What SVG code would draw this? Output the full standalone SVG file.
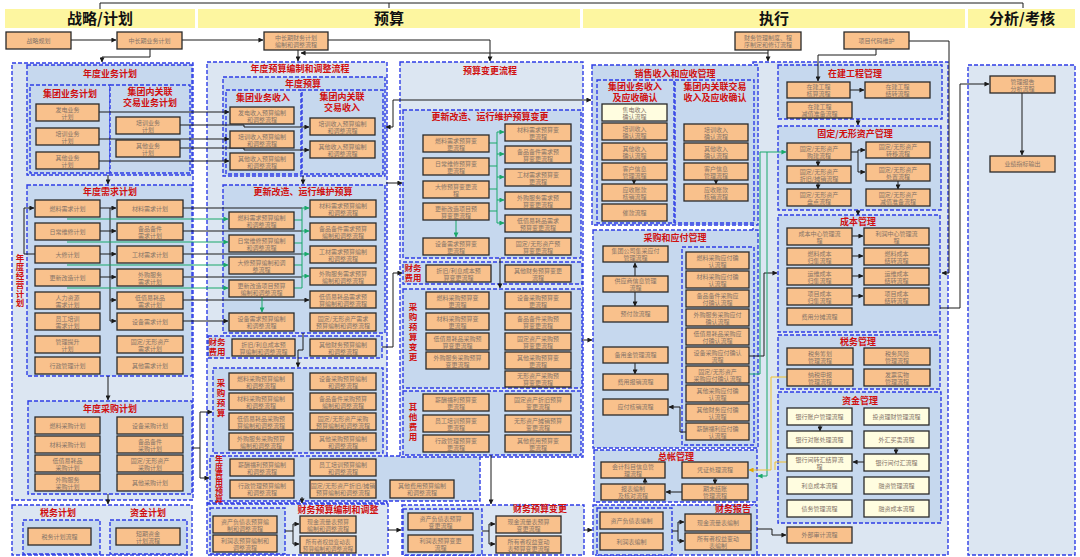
<svg xmlns="http://www.w3.org/2000/svg" width="1080" height="557" viewBox="0 0 1080 557">
<defs>
<style>
.hb{fill:#FDF6A0}
.ht{font-family:"Noto Sans CJK SC","Noto Sans",sans-serif;font-size:15px;font-weight:bold;fill:#111;text-anchor:middle}
.co{fill:#DCE6F2;stroke:#2E3DE6;stroke-width:1.4;stroke-dasharray:4 2}
.c{fill:#C6D8EE;stroke:#2E3DE6;stroke-width:1.4;stroke-dasharray:4 2}
.ct{font-family:"Noto Sans CJK SC",sans-serif;font-size:9px;font-weight:bold;fill:#D01010;text-anchor:middle}
.vl{font-family:"Noto Sans CJK SC",sans-serif;font-size:8.5px;font-weight:bold;fill:#D01010;text-anchor:middle}
.vv{font-family:"Noto Sans CJK SC",sans-serif;font-size:8.5px;font-weight:bold;fill:#D01010;text-anchor:middle;writing-mode:vertical-rl}
.b{fill:#F9C18C;stroke:#2A2A2A;stroke-width:1.3}
.bc{fill:#FFFDE0;stroke:#2A2A2A;stroke-width:1.3}
.t{font-family:"Noto Sans CJK SC",sans-serif;font-size:6px;fill:#857468;text-anchor:middle}
.k{fill:none;stroke:#1A1A1A;stroke-width:1}
.g{fill:none;stroke:#19A86A;stroke-width:1}
.y{fill:none;stroke:#F2C22E;stroke-width:1}
.a{marker-end:url(#ak)}
.ag{marker-end:url(#ag)}
.ay{marker-end:url(#ay)}
</style>
<marker id="ak" viewBox="0 0 6 6" refX="5.5" refY="3" markerWidth="5" markerHeight="5" markerUnits="userSpaceOnUse" orient="auto"><path d="M0,0L6,3L0,6z" fill="#1A1A1A"/></marker>
<marker id="ag" viewBox="0 0 6 6" refX="5.5" refY="3" markerWidth="5" markerHeight="5" markerUnits="userSpaceOnUse" orient="auto"><path d="M0,0L6,3L0,6z" fill="#19A86A"/></marker>
<marker id="ay" viewBox="0 0 6 6" refX="5.5" refY="3" markerWidth="5" markerHeight="5" markerUnits="userSpaceOnUse" orient="auto"><path d="M0,0L6,3L0,6z" fill="#E0A800"/></marker>
</defs>
<rect x="0" y="0" width="1080" height="557" fill="#FFFFFF"/>

<g id="headers">
<rect class="hb" x="5" y="9" width="190" height="19"/><text class="ht" x="100" y="24">战略/计划</text>
<rect class="hb" x="198" y="9" width="382" height="19"/><text class="ht" x="389" y="24">预算</text>
<rect class="hb" x="583" y="9" width="382" height="19"/><text class="ht" x="774" y="24">执行</text>
<rect class="hb" x="968" y="9" width="107" height="19"/><text class="ht" x="1022" y="24">分析/考核</text>
</g>

<!-- containers -->
<g id="c-ndjyjh"><rect class="co" x="12" y="63" width="181" height="437"/><text class="vv" x="20" y="281" letter-spacing="0.5">年度经营计划</text></g>
<g id="c-ndywjh"><rect class="c" x="27" y="65" width="165" height="110"/><text class="ct" x="110" y="77">年度业务计划</text></g>
<g id="c-jtywjh"><rect class="c" x="30" y="85" width="80" height="88"/><text class="ct" x="70" y="97">集团业务计划</text></g>
<g id="c-jtnywjh"><rect class="c" x="110" y="85" width="80" height="88"/><text class="ct" x="150" y="95">集团内关联<tspan x="150" dy="11">交易业务计划</tspan></text></g>
<g id="c-ndxqjh"><rect class="c" x="27" y="185" width="165" height="191"/><text class="ct" x="110" y="195">年度需求计划</text></g>
<g id="c-ndcgjh"><rect class="c" x="28" y="401" width="164" height="93"/><text class="ct" x="110" y="412">年度采购计划</text></g>
<g id="c-swzj"><rect class="co" x="12" y="505" width="180" height="50"/></g>
<g id="c-swjh"><rect class="c" x="23" y="520" width="77" height="34"/><text class="ct" x="58" y="516">税务计划</text></g>
<g id="c-zjjh"><rect class="c" x="110" y="520" width="77" height="34"/><text class="ct" x="148" y="516">资金计划</text></g>

<g id="c-ndysbz"><rect class="co" x="207" y="62" width="180" height="441"/><text class="ct" x="300" y="72">年度预算编制和调整流程</text></g>
<g id="c-ndys"><rect class="c" x="223" y="77" width="162" height="99"/><text class="ct" x="303" y="87">年度预算</text></g>
<g id="c-jtywsr"><rect class="c" x="226" y="90" width="75" height="84"/><text class="ct" x="263" y="101">集团业务收入</text></g>
<g id="c-jtnsr"><rect class="c" x="302" y="90" width="81" height="84"/><text class="ct" x="342" y="100">集团内关联<tspan x="342" dy="11">交易收入</tspan></text></g>
<g id="c-gxys"><rect class="c" x="223" y="185" width="162" height="148"/><text class="ct" x="303" y="195">更新改造、运行维护预算</text></g>
<g id="c-cwfy"><rect class="c" x="208" y="336" width="174" height="22"/><text class="vl" x="217" y="345">财务<tspan x="217" dy="10">费用</tspan></text></g>
<g id="c-cgys"><rect class="c" x="213" y="368" width="170" height="85"/><text class="vv" x="221" y="399" letter-spacing="1.5">采购预算</text></g>
<g id="c-fyys"><rect class="c" x="210" y="456" width="270" height="45"/><text class="vv" x="219" y="479" style="font-size:8px">年度费用预算</text></g>
<g id="c-cwysbz"><rect class="co" x="207" y="504" width="181" height="51"/><text class="ct" x="338" y="513">财务预算编制和调整</text></g>
<g id="c-cwysbz-l"><rect class="c" x="210" y="508" width="75" height="46"/></g>

<g id="c-ysbg"><rect class="co" x="400" y="62" width="183" height="395"/><text class="ct" x="490" y="74">预算变更流程</text></g>
<g id="c-gxbg"><rect class="c" x="403" y="110" width="178" height="148"/><text class="ct" x="490" y="120">更新改造、运行维护预算变更</text></g>
<g id="c-cwfybg"><rect class="c" x="403" y="262" width="179" height="22"/><text class="vl" x="413" y="271">财务<tspan x="413" dy="10">费用</tspan></text></g>
<g id="c-cgbg"><rect class="c" x="403" y="289" width="179" height="99"/><text class="vv" x="413" y="333" letter-spacing="1.5">采购预算变更</text></g>
<g id="c-qtfybg"><rect class="c" x="403" y="391" width="178" height="64"/><text class="vv" x="413" y="423" letter-spacing="1.5">其他费用</text></g>
<g id="c-cwysbg"><rect class="co" x="402" y="505" width="182" height="50"/><text class="ct" x="540" y="512">财务预算变更</text></g>
<g id="c-cwysbg-l"><rect class="c" x="403" y="509" width="79" height="46"/></g>

<g id="c-zx"><rect class="co" x="753" y="62" width="195" height="493"/></g>
<g id="c-xs"><rect class="c" x="592" y="65" width="166" height="160"/><text class="ct" x="675" y="77">销售收入和应收管理</text></g>
<g id="c-xs1"><rect class="c" x="597" y="80" width="77" height="143"/><text class="ct" x="635" y="90">集团业务收入<tspan x="635" dy="11">及应收确认</tspan></text></g>
<g id="c-xs2"><rect class="c" x="675" y="80" width="79" height="143"/><text class="ct" x="715" y="90">集团内关联交易<tspan x="715" dy="11">收入及应收确认</tspan></text></g>
<g id="c-cgyf"><rect class="c" x="593" y="230" width="165" height="218"/><text class="ct" x="675" y="241">采购和应付管理</text></g>
<g id="c-cgyf-r"><rect class="c" x="682" y="247" width="72" height="198"/></g>
<g id="c-zz"><rect class="c" x="594" y="450" width="163" height="52"/><text class="ct" x="676" y="460">总帐管理</text></g>
<g id="c-cwbg"><rect class="c" x="593" y="505" width="164" height="50"/><text class="ct" x="733" y="512">财务报告</text></g>
<g id="c-cwbg-l"><rect class="c" x="597" y="508" width="75" height="47"/></g>
<g id="c-zjgc"><rect class="c" x="778" y="65" width="164" height="54"/><text class="ct" x="855" y="77">在建工程管理</text></g>
<g id="c-gdzc"><rect class="c" x="778" y="126" width="163" height="84"/><text class="ct" x="855" y="137">固定/无形资产管理</text></g>
<g id="c-cbgl"><rect class="c" x="778" y="215" width="162" height="117"/><text class="ct" x="858" y="225">成本管理</text></g>
<g id="c-swgl"><rect class="c" x="778" y="335" width="162" height="54"/><text class="ct" x="858" y="345">税务管理</text></g>
<g id="c-zjgl"><rect class="c" x="778" y="392" width="163" height="131"/><text class="ct" x="860" y="404">资金管理</text></g>
<g id="c-fx"><rect class="co" x="968" y="65" width="107" height="490"/></g>

<g id="connectors">
<path class="k" d="M100,9V3H1023V8"/><path class="k" d="M389,3V8"/>
<path class="k a" d="M71,40H116"/>
<path class="k a" d="M182,40H263"/>
<path class="k a" d="M150,49V57H102V62"/>
<path class="k a" d="M298,50V61"/>
<path class="k a" d="M328,40H490V61"/>
<path class="k a" d="M768,50V61"/>
<path class="k a" d="M768,53H301"/>
<path class="k a" d="M876,49V55H818V81"/>
<path class="k a" d="M909,41H949V273H942"/>
<path class="k a" d="M940,308H960V84H989"/>
<path class="k a" d="M1022,93V155"/>
<path class="k a" d="M108,175V184"/>
<path class="k a" d="M108,376V400"/>
<path class="k a" d="M108,494V504"/>
<path class="k a" d="M99,112H229"/>
<path class="k a" d="M99,139H229"/>
<path class="k a" d="M99,161H229"/>
<path class="k a" d="M180,125H244V127H309"/>
<path class="k a" d="M180,148H244V150H309"/>
<path class="k a" d="M393,127H386"/>
<path class="k a" d="M393,127V100H591"/>
<path class="k a" d="M35,254H24V208H34"/>
<path class="k" d="M100,208H110M100,231H110M100,254H110M100,277H110M110,208V321"/>
<path class="k a" d="M110,208H116"/><path class="k a" d="M110,231H116"/><path class="k a" d="M110,254H116"/><path class="k a" d="M110,277H116"/><path class="k a" d="M110,300H116"/><path class="k a" d="M110,321H116"/>
<path class="g ag" d="M67,219H228"/>
<path class="g ag" d="M67,242H228"/>
<path class="g ag" d="M67,265H228"/>
<path class="g ag" d="M67,288H228"/>
<path class="k" d="M183,208H302M183,231H302M183,254H302M183,277H302"/>
<path class="k a" d="M183,300H309"/>
<path class="k a" d="M183,321H228"/>
<path class="g" d="M294,220H302M294,243H302M294,265H302M294,288H302M302,208V288"/>
<path class="g ag" d="M302,208H309"/><path class="g ag" d="M302,231H309"/><path class="g ag" d="M302,254H309"/><path class="g ag" d="M302,276H309"/>
<path class="g ag" d="M262,297V312"/>
<path class="k a" d="M303,176V184"/>
<path class="k a" d="M303,333V350H298V367"/>
<path class="k" d="M192,448H200M200,412V478"/>
<path class="k a" d="M200,412H212"/><path class="k a" d="M200,478H209"/>
<path class="k a" d="M302,497V503"/>
<path class="k" d="M285,531H293M293,524V544"/><path class="k a" d="M293,524H299"/><path class="k a" d="M293,544H299"/>
<path class="k a" d="M388,530H401"/>
<path class="k a" d="M386,183H402"/>
<path class="k a" d="M382,347H393V273H402"/>
<path class="k a" d="M500,258V288"/>
<path class="g" d="M489,143H497M489,166H497M489,189H497M489,211H497M497,132V223"/>
<path class="g ag" d="M497,132H504"/><path class="g ag" d="M497,154H504"/><path class="g ag" d="M497,177H504"/><path class="g ag" d="M497,200H504"/><path class="g ag" d="M497,223H504"/>
<path class="g ag" d="M456,220V237"/>
<path class="k a" d="M491,455V504"/>
<path class="k" d="M482,531H489M489,524V544"/><path class="k a" d="M489,524H495"/><path class="k a" d="M489,544H495"/>
<path class="k a" d="M584,530H592"/>
<path class="k a" d="M582,340H592"/>
<path class="k a" d="M634,179V184"/><path class="k a" d="M716,179V184"/>
<path class="k a" d="M635,276V263"/>
<path class="k a" d="M635,292V306"/>
<path class="k a" d="M635,363V374"/>
<path class="k a" d="M686,432H680V407H669"/>
<path class="k a" d="M749,356H764V273H777"/>
<path class="g ag" d="M749,374H760V152H786"/>
<path class="g ag" d="M767,152V476H758"/>
<path class="y ay" d="M787,377H771V470H749"/>
<path class="y" d="M787,462H775V470"/>
<path class="k a" d="M757,529H772V535H786"/>
<path class="k" d="M672,531H678M678,522V541"/><path class="k a" d="M678,522H684"/><path class="k a" d="M678,541H684"/>
<path class="k a" d="M715,478V484"/><path class="k a" d="M682,492H666"/><path class="k a" d="M645,484V478"/>
<path class="k a" d="M850,90H864"/><path class="k a" d="M858,119V125"/>
<path class="k a" d="M851,152H858V150H865"/><path class="k a" d="M858,152V172H865"/>
<path class="k a" d="M818,160V166"/><path class="k a" d="M818,183V189"/><path class="k a" d="M898,181V189"/><path class="k a" d="M858,210V215"/>
<path class="k a" d="M852,236H863"/><path class="k a" d="M852,256H863"/><path class="k a" d="M852,276H863"/><path class="k a" d="M852,296H863"/>
<path class="k a" d="M820,425V431"/><path class="k a" d="M896,448V454"/><path class="k a" d="M864,462H853"/>
</g>

<!-- column 1 nodes -->
<g id="n-zlgh"><rect class="b" x="6" y="32" width="65" height="17"/><text class="t" x="38.5" y="42.5">战略规划</text></g>
<g id="n-zcqywjh"><rect class="b" x="117" y="32" width="65" height="17"/><text class="t" x="149.5" y="42.5">中长期业务计划</text></g>
<g id="n-fdywjh"><rect class="b" x="36" y="104" width="63" height="17"/><text class="t" x="67.5" y="111.5">发电业务<tspan x="67.5" dy="7">计划</tspan></text></g>
<g id="n-pxywjh"><rect class="b" x="36" y="128" width="63" height="17"/><text class="t" x="67.5" y="135.5">培训业务<tspan x="67.5" dy="7">计划</tspan></text></g>
<g id="n-qtywjh"><rect class="b" x="36" y="152" width="63" height="17"/><text class="t" x="67.5" y="159.5">其他业务<tspan x="67.5" dy="7">计划</tspan></text></g>
<g id="n-pxywjh2"><rect class="b" x="116" y="117" width="64" height="17"/><text class="t" x="148" y="124.5">培训业务<tspan x="148" dy="7">计划</tspan></text></g>
<g id="n-qtywjh2"><rect class="b" x="116" y="140" width="64" height="17"/><text class="t" x="148" y="147.5">其他业务<tspan x="148" dy="7">计划</tspan></text></g>
<g id="n-rlxq"><rect class="b" x="35" y="200" width="65" height="17"/><text class="t" x="67.5" y="210.5">燃料需求计划</text></g>
<g id="n-rcwx"><rect class="b" x="35" y="223" width="65" height="17"/><text class="t" x="67.5" y="233.5">日常维修计划</text></g>
<g id="n-dx"><rect class="b" x="35" y="246" width="65" height="17"/><text class="t" x="67.5" y="256.5">大修计划</text></g>
<g id="n-gxgz"><rect class="b" x="35" y="269" width="65" height="17"/><text class="t" x="67.5" y="279.5">更新改造计划</text></g>
<g id="n-rlzy"><rect class="b" x="35" y="292" width="65" height="17"/><text class="t" x="67.5" y="299.5">人力资源<tspan x="67.5" dy="7">需求计划</tspan></text></g>
<g id="n-ygpx"><rect class="b" x="35" y="313" width="65" height="17"/><text class="t" x="67.5" y="320.5">员工培训<tspan x="67.5" dy="7">需求计划</tspan></text></g>
<g id="n-glts"><rect class="b" x="35" y="336" width="65" height="17"/><text class="t" x="67.5" y="343.5">管理提升<tspan x="67.5" dy="7">计划</tspan></text></g>
<g id="n-xzgl"><rect class="b" x="35" y="357" width="65" height="17"/><text class="t" x="67.5" y="367.5">行政管理计划</text></g>
<g id="n-clxq"><rect class="b" x="117" y="200" width="66" height="17"/><text class="t" x="150" y="210.5">材料需求计划</text></g>
<g id="n-bpbj"><rect class="b" x="117" y="223" width="66" height="17"/><text class="t" x="150" y="230.5">备品备件<tspan x="150" dy="7">需求计划</tspan></text></g>
<g id="n-gcxq"><rect class="b" x="117" y="246" width="66" height="17"/><text class="t" x="150" y="256.5">工材需求计划</text></g>
<g id="n-wgfw"><rect class="b" x="117" y="269" width="66" height="17"/><text class="t" x="150" y="276.5">外购服务<tspan x="150" dy="7">需求计划</tspan></text></g>
<g id="n-dzyh"><rect class="b" x="117" y="292" width="66" height="17"/><text class="t" x="150" y="299.5">低值易耗品<tspan x="150" dy="7">需求计划</tspan></text></g>
<g id="n-sbxq"><rect class="b" x="117" y="313" width="66" height="17"/><text class="t" x="150" y="323.5">设备需求计划</text></g>
<g id="n-gdxq"><rect class="b" x="117" y="336" width="66" height="17"/><text class="t" x="150" y="343.5">固定/无形资产<tspan x="150" dy="7">需求计划</tspan></text></g>
<g id="n-qtxq"><rect class="b" x="117" y="357" width="66" height="17"/><text class="t" x="150" y="367.5">其他需求计划</text></g>
<g id="n-rlcg"><rect class="b" x="35" y="417" width="65" height="17"/><text class="t" x="67.5" y="427.5">燃料采购计划</text></g>
<g id="n-clcg"><rect class="b" x="35" y="436" width="65" height="17"/><text class="t" x="67.5" y="446.5">材料采购计划</text></g>
<g id="n-dzcg"><rect class="b" x="35" y="455" width="65" height="17"/><text class="t" x="67.5" y="462.5">低值易耗品<tspan x="67.5" dy="7">采购计划</tspan></text></g>
<g id="n-wgcg"><rect class="b" x="35" y="474" width="65" height="17"/><text class="t" x="67.5" y="481.5">外购服务<tspan x="67.5" dy="7">采购计划</tspan></text></g>
<g id="n-sbcg"><rect class="b" x="117" y="417" width="66" height="17"/><text class="t" x="150" y="427.5">设备采购计划</text></g>
<g id="n-bpcg"><rect class="b" x="117" y="436" width="66" height="17"/><text class="t" x="150" y="443.5">备品备件<tspan x="150" dy="7">采购计划</tspan></text></g>
<g id="n-gdcg"><rect class="b" x="117" y="455" width="66" height="17"/><text class="t" x="150" y="462.5">固定/无形资产<tspan x="150" dy="7">采购计划</tspan></text></g>
<g id="n-qtcg"><rect class="b" x="117" y="474" width="66" height="17"/><text class="t" x="150" y="484.5">其他采购计划</text></g>
<g id="n-swjhlc"><rect class="b" x="28" y="528" width="63" height="17"/><text class="t" x="59.5" y="538.5">税务计划流程</text></g>
<g id="n-dqzjjh"><rect class="b" x="116" y="528" width="64" height="17"/><text class="t" x="148" y="535.5">短期资金<tspan x="148" dy="7">计划流程</tspan></text></g>

<!-- column 2 nodes -->
<g id="n-zcqcwjh"><rect class="b" x="264" y="32" width="64" height="18"/><text class="t" x="296" y="40">中长期财务计划<tspan x="296" dy="7">编制和调整流程</tspan></text></g>
<g id="n-fdsr"><rect class="b" x="230" y="107" width="64" height="17"/><text class="t" x="262" y="114.5">发电收入预算编制<tspan x="262" dy="7">和调整流程</tspan></text></g>
<g id="n-pxsr"><rect class="b" x="230" y="131" width="64" height="17"/><text class="t" x="262" y="138.5">培训收入预算编制<tspan x="262" dy="7">和调整流程</tspan></text></g>
<g id="n-qtsr"><rect class="b" x="230" y="153" width="64" height="17"/><text class="t" x="262" y="160.5">其他收入预算编制<tspan x="262" dy="7">和调整流程</tspan></text></g>
<g id="n-pxsr2"><rect class="b" x="310" y="118" width="65" height="17"/><text class="t" x="342.5" y="125.5">培训收入预算编制<tspan x="342.5" dy="7">和调整流程</tspan></text></g>
<g id="n-qtsr2"><rect class="b" x="310" y="141" width="65" height="17"/><text class="t" x="342.5" y="148.5">其他收入预算编制<tspan x="342.5" dy="7">和调整流程</tspan></text></g>
<g id="n-rlys"><rect class="b" x="229" y="212" width="65" height="17"/><text class="t" x="261.5" y="219.5">燃料需求预算编制<tspan x="261.5" dy="7">和调整流程</tspan></text></g>
<g id="n-rcys"><rect class="b" x="229" y="235" width="65" height="17"/><text class="t" x="261.5" y="242.5">日常维修预算编制<tspan x="261.5" dy="7">和调整流程</tspan></text></g>
<g id="n-dxys"><rect class="b" x="229" y="257" width="65" height="17"/><text class="t" x="261.5" y="264.5">大修预算编制和调<tspan x="261.5" dy="7">整流程</tspan></text></g>
<g id="n-gxys"><rect class="b" x="229" y="280" width="65" height="17"/><text class="t" x="261.5" y="287.5">更新改造项目预算<tspan x="261.5" dy="7">编制和调整流程</tspan></text></g>
<g id="n-sbys"><rect class="b" x="229" y="313" width="65" height="18"/><text class="t" x="261.5" y="321">设备需求预算编制<tspan x="261.5" dy="7">和调整流程</tspan></text></g>
<g id="n-clys"><rect class="b" x="310" y="200" width="66" height="17"/><text class="t" x="343" y="207.5">材料需求预算编制<tspan x="343" dy="7">和调整流程</tspan></text></g>
<g id="n-bpys"><rect class="b" x="310" y="223" width="66" height="17"/><text class="t" x="343" y="230.5">备品备件需求预算<tspan x="343" dy="7">编制和调整流程</tspan></text></g>
<g id="n-gcys"><rect class="b" x="310" y="246" width="66" height="17"/><text class="t" x="343" y="253.5">工材需求预算编制<tspan x="343" dy="7">和调整流程</tspan></text></g>
<g id="n-wgys"><rect class="b" x="310" y="268" width="66" height="17"/><text class="t" x="343" y="275.5">外购服务需求预算<tspan x="343" dy="7">编制和调整流程</tspan></text></g>
<g id="n-dzys"><rect class="b" x="310" y="291" width="66" height="17"/><text class="t" x="343" y="298.5">低值易耗品需求预<tspan x="343" dy="7">算编制和调整流程</tspan></text></g>
<g id="n-gdys"><rect class="b" x="310" y="313" width="66" height="18"/><text class="t" x="343" y="321">固定/无形资产需求<tspan x="343" dy="7">预算编制和调整流程</tspan></text></g>
<g id="n-zjlx"><rect class="b" x="232" y="339" width="63" height="17"/><text class="t" x="263.5" y="346.5">折旧/利息成本预<tspan x="263.5" dy="7">算编制和调整流程</tspan></text></g>
<g id="n-qtcw"><rect class="b" x="310" y="339" width="66" height="17"/><text class="t" x="343" y="346.5">其他财务预算编制<tspan x="343" dy="7">和调整流程</tspan></text></g>
<g id="n-rlcgys"><rect class="b" x="229" y="373" width="64" height="17"/><text class="t" x="261" y="380.5">燃料采购预算编制<tspan x="261" dy="7">和调整流程</tspan></text></g>
<g id="n-clcgys"><rect class="b" x="229" y="393" width="64" height="17"/><text class="t" x="261" y="400.5">材料采购预算编制<tspan x="261" dy="7">和调整流程</tspan></text></g>
<g id="n-dzcgys"><rect class="b" x="229" y="413" width="64" height="17"/><text class="t" x="261" y="420.5">低值易耗品采购预<tspan x="261" dy="7">算编制和调整流程</tspan></text></g>
<g id="n-wgcgys"><rect class="b" x="229" y="433" width="64" height="17"/><text class="t" x="261" y="440.5">外购服务采购预算<tspan x="261" dy="7">编制和调整流程</tspan></text></g>
<g id="n-sbcgys"><rect class="b" x="310" y="373" width="66" height="17"/><text class="t" x="343" y="380.5">设备采购预算编制<tspan x="343" dy="7">和调整流程</tspan></text></g>
<g id="n-bpcgys"><rect class="b" x="310" y="393" width="66" height="17"/><text class="t" x="343" y="400.5">备品备件采购预算<tspan x="343" dy="7">编制和调整流程</tspan></text></g>
<g id="n-gdcgys"><rect class="b" x="310" y="413" width="66" height="17"/><text class="t" x="343" y="420.5">固定/无形资产采购<tspan x="343" dy="7">预算编制和调整流程</tspan></text></g>
<g id="n-qtcgys"><rect class="b" x="310" y="433" width="66" height="17"/><text class="t" x="343" y="440.5">其他采购预算编制<tspan x="343" dy="7">和调整流程</tspan></text></g>
<g id="n-xcys"><rect class="b" x="230" y="459" width="64" height="17"/><text class="t" x="262" y="466.5">薪酬福利预算编制<tspan x="262" dy="7">和调整流程</tspan></text></g>
<g id="n-pxys"><rect class="b" x="310" y="459" width="66" height="17"/><text class="t" x="343" y="466.5">员工培训预算编制<tspan x="343" dy="7">和调整流程</tspan></text></g>
<g id="n-xzys"><rect class="b" x="230" y="480" width="64" height="18"/><text class="t" x="262" y="488">行政管理预算编制<tspan x="262" dy="7">和调整流程</tspan></text></g>
<g id="n-zjtxys"><rect class="b" x="310" y="480" width="66" height="18"/><text class="t" x="343" y="488">固定/无形资产折旧/摊销<tspan x="343" dy="7">预算编制和调整流程</tspan></text></g>
<g id="n-qtfyys"><rect class="b" x="390" y="480" width="64" height="18"/><text class="t" x="422" y="488">其他费用预算编制<tspan x="422" dy="7">和调整流程</tspan></text></g>
<g id="n-zcfzys"><rect class="b" x="213" y="516" width="64" height="17"/><text class="t" x="245" y="523.5">资产负债表预算编<tspan x="245" dy="7">制和调整流程</tspan></text></g>
<g id="n-lrys"><rect class="b" x="213" y="535" width="64" height="17"/><text class="t" x="245" y="542.5">利润表预算编制和<tspan x="245" dy="7">调整流程</tspan></text></g>
<g id="n-xjllys"><rect class="b" x="300" y="516" width="56" height="17"/><text class="t" x="328" y="523.5">现金流量表预算<tspan x="328" dy="7">编制和调整流程</tspan></text></g>
<g id="n-syzqys"><rect class="b" x="300" y="536" width="56" height="17"/><text class="t" x="328" y="543.5" style="font-size:5.6px">所有者权益变动表<tspan x="328" dy="7">预算编制和调整流程</tspan></text></g>

<!-- column 2b nodes -->
<g id="n-rlbg"><rect class="b" x="423" y="135" width="66" height="17"/><text class="t" x="456" y="142.5">燃料需求预算变<tspan x="456" dy="7">更流程</tspan></text></g>
<g id="n-rcbg"><rect class="b" x="423" y="158" width="66" height="17"/><text class="t" x="456" y="165.5">日常维修预算变<tspan x="456" dy="7">更流程</tspan></text></g>
<g id="n-dxbg"><rect class="b" x="423" y="181" width="66" height="17"/><text class="t" x="456" y="188.5">大修预算变更流<tspan x="456" dy="7">程</tspan></text></g>
<g id="n-gxbgn"><rect class="b" x="423" y="203" width="66" height="17"/><text class="t" x="456" y="210.5">更新改造项目预<tspan x="456" dy="7">算变更流程</tspan></text></g>
<g id="n-sbbg"><rect class="b" x="423" y="238" width="66" height="17"/><text class="t" x="456" y="245.5">设备需求预算变<tspan x="456" dy="7">更流程</tspan></text></g>
<g id="n-clbg"><rect class="b" x="505" y="124" width="66" height="17"/><text class="t" x="538" y="131.5">材料需求预算变<tspan x="538" dy="7">更流程</tspan></text></g>
<g id="n-bpbg"><rect class="b" x="505" y="146" width="66" height="17"/><text class="t" x="538" y="153.5">备品备件需求预<tspan x="538" dy="7">算变更流程</tspan></text></g>
<g id="n-gcbg"><rect class="b" x="505" y="169" width="66" height="17"/><text class="t" x="538" y="176.5">工材需求预算变<tspan x="538" dy="7">更流程</tspan></text></g>
<g id="n-wgbg"><rect class="b" x="505" y="192" width="66" height="17"/><text class="t" x="538" y="199.5">外购服务需求预<tspan x="538" dy="7">算变更流程</tspan></text></g>
<g id="n-dzbg"><rect class="b" x="505" y="215" width="66" height="17"/><text class="t" x="538" y="222.5">低值易耗品需求<tspan x="538" dy="7">预算变更流程</tspan></text></g>
<g id="n-gdbg"><rect class="b" x="505" y="238" width="66" height="17"/><text class="t" x="538" y="245.5">固定/无形资产预<tspan x="538" dy="7">算变更流程</tspan></text></g>
<g id="n-zjlxbg"><rect class="b" x="426" y="265" width="65" height="17"/><text class="t" x="458.5" y="272.5">折旧/利息成本预<tspan x="458.5" dy="7">算变更流程</tspan></text></g>
<g id="n-qtcwbg"><rect class="b" x="505" y="265" width="66" height="17"/><text class="t" x="538" y="272.5">其他财务预算变更<tspan x="538" dy="7">流程</tspan></text></g>
<g id="n-rlcgbg"><rect class="b" x="426" y="292" width="63" height="17"/><text class="t" x="457.5" y="299.5">燃料采购预算变<tspan x="457.5" dy="7">更流程</tspan></text></g>
<g id="n-clcgbg"><rect class="b" x="426" y="313" width="63" height="17"/><text class="t" x="457.5" y="320.5">材料采购预算变<tspan x="457.5" dy="7">更流程</tspan></text></g>
<g id="n-dzcgbg"><rect class="b" x="426" y="333" width="63" height="17"/><text class="t" x="457.5" y="340.5">低值易耗品采购预<tspan x="457.5" dy="7">算变更流程</tspan></text></g>
<g id="n-wgcgbg"><rect class="b" x="426" y="352" width="63" height="17"/><text class="t" x="457.5" y="359.5">外购服务采购预算<tspan x="457.5" dy="7">变更流程</tspan></text></g>
<g id="n-sbcgbg"><rect class="b" x="505" y="292" width="66" height="17"/><text class="t" x="538" y="299.5">设备采购预算变<tspan x="538" dy="7">更流程</tspan></text></g>
<g id="n-bpcgbg"><rect class="b" x="505" y="313" width="66" height="17"/><text class="t" x="538" y="320.5">备品备件采购预<tspan x="538" dy="7">算变更流程</tspan></text></g>
<g id="n-gdcgbg"><rect class="b" x="505" y="333" width="66" height="17"/><text class="t" x="538" y="340.5">固定资产采购预<tspan x="538" dy="7">算变更流程</tspan></text></g>
<g id="n-qtcgbg"><rect class="b" x="505" y="352" width="66" height="17"/><text class="t" x="538" y="359.5">其他采购预算变<tspan x="538" dy="7">更流程</tspan></text></g>
<g id="n-wxcgbg"><rect class="b" x="505" y="371" width="66" height="16"/><text class="t" x="538" y="378">无形资产采购预<tspan x="538" dy="7">算变更流程</tspan></text></g>
<g id="n-xcbg"><rect class="b" x="423" y="394" width="66" height="17"/><text class="t" x="456" y="401.5">薪酬福利预算变<tspan x="456" dy="7">更流程</tspan></text></g>
<g id="n-pxbg"><rect class="b" x="423" y="415" width="66" height="17"/><text class="t" x="456" y="422.5">员工培训预算变<tspan x="456" dy="7">更流程</tspan></text></g>
<g id="n-xzbg"><rect class="b" x="423" y="435" width="66" height="17"/><text class="t" x="456" y="442.5">行政管理预算变<tspan x="456" dy="7">更流程</tspan></text></g>
<g id="n-zjbg"><rect class="b" x="505" y="394" width="66" height="17"/><text class="t" x="538" y="401.5">固定资产折旧预算<tspan x="538" dy="7">变更流程</tspan></text></g>
<g id="n-txbg"><rect class="b" x="505" y="415" width="66" height="17"/><text class="t" x="538" y="422.5">无形资产摊销预算<tspan x="538" dy="7">变更流程</tspan></text></g>
<g id="n-qtfybg"><rect class="b" x="505" y="435" width="66" height="17"/><text class="t" x="538" y="442.5">其他费用预算变<tspan x="538" dy="7">更流程</tspan></text></g>
<g id="n-zcfzbg"><rect class="b" x="408" y="513" width="65" height="17"/><text class="t" x="440.5" y="520.5">资产负债表预算<tspan x="440.5" dy="7">变更流程</tspan></text></g>
<g id="n-lrbg"><rect class="b" x="408" y="535" width="65" height="17"/><text class="t" x="440.5" y="542.5">利润表预算变更<tspan x="440.5" dy="7">流程</tspan></text></g>
<g id="n-xjllbg"><rect class="b" x="496" y="516" width="65" height="17"/><text class="t" x="528.5" y="523.5">现金流量表预算<tspan x="528.5" dy="7">变更流程</tspan></text></g>
<g id="n-syzqbg"><rect class="b" x="496" y="536" width="65" height="17"/><text class="t" x="528.5" y="543.5">所有者权益变动<tspan x="528.5" dy="7">表预算变更流程</tspan></text></g>

<!-- column 3 nodes -->
<g id="n-cwzd"><rect class="b" x="735" y="32" width="66" height="18"/><text class="t" x="768" y="40">财务管理制度、程<tspan x="768" dy="7">序制定和修订流程</tspan></text></g>
<g id="n-xmdm"><rect class="b" x="844" y="32" width="65" height="17"/><text class="t" x="876.5" y="42.5">项目代码维护</text></g>
<g id="n-sdsr"><rect class="bc" x="602" y="104" width="65" height="17"/><text class="t" x="634.5" y="111.5">售电收入<tspan x="634.5" dy="7">确认流程</tspan></text></g>
<g id="n-pxqr"><rect class="b" x="602" y="123" width="65" height="17"/><text class="t" x="634.5" y="130.5">培训收入<tspan x="634.5" dy="7">确认流程</tspan></text></g>
<g id="n-qtqr"><rect class="b" x="602" y="143" width="65" height="17"/><text class="t" x="634.5" y="150.5">其他收入<tspan x="634.5" dy="7">确认流程</tspan></text></g>
<g id="n-khxx"><rect class="b" x="602" y="163" width="65" height="17"/><text class="t" x="634.5" y="170.5">客户信息<tspan x="634.5" dy="7">管理流程</tspan></text></g>
<g id="n-yszk"><rect class="b" x="602" y="184" width="65" height="17"/><text class="t" x="634.5" y="191.5">应收账款<tspan x="634.5" dy="7">核销流程</tspan></text></g>
<g id="n-ck"><rect class="b" x="602" y="204" width="65" height="17"/><text class="t" x="634.5" y="214.5">催款流程</text></g>
<g id="n-pxqr2"><rect class="b" x="684" y="124" width="64" height="17"/><text class="t" x="716" y="131.5">培训收入<tspan x="716" dy="7">确认流程</tspan></text></g>
<g id="n-qtqr2"><rect class="b" x="684" y="143" width="64" height="17"/><text class="t" x="716" y="150.5">其他收入<tspan x="716" dy="7">确认流程</tspan></text></g>
<g id="n-khxx2"><rect class="b" x="684" y="163" width="64" height="17"/><text class="t" x="716" y="170.5">客户信息<tspan x="716" dy="7">管理流程</tspan></text></g>
<g id="n-yszk2"><rect class="b" x="684" y="184" width="64" height="17"/><text class="t" x="716" y="191.5">应收账款<tspan x="716" dy="7">核销流程</tspan></text></g>
<g id="n-jtcg"><rect class="b" x="603" y="246" width="65" height="16"/><text class="t" x="635.5" y="253">集团公司集采应付<tspan x="635.5" dy="7">管理流程</tspan></text></g>
<g id="n-gys"><rect class="b" x="603" y="276" width="65" height="16"/><text class="t" x="635.5" y="283">供应商信息管理<tspan x="635.5" dy="7">流程</tspan></text></g>
<g id="n-yfk"><rect class="b" x="603" y="306" width="65" height="16"/><text class="t" x="635.5" y="316">预付款流程</text></g>
<g id="n-byj"><rect class="b" x="603" y="347" width="65" height="16"/><text class="t" x="635.5" y="357">备用金管理流程</text></g>
<g id="n-fybx"><rect class="b" x="603" y="374" width="65" height="16"/><text class="t" x="635.5" y="384">费用报销流程</text></g>
<g id="n-yfhx"><rect class="b" x="603" y="399" width="65" height="16"/><text class="t" x="635.5" y="409">应付核销流程</text></g>
<g id="n-rlyf"><rect class="b" x="686" y="252" width="63" height="17"/><text class="t" x="717.5" y="259.5">燃料采购应付确<tspan x="717.5" dy="7">认流程</tspan></text></g>
<g id="n-clyf"><rect class="b" x="686" y="271" width="63" height="17"/><text class="t" x="717.5" y="278.5">材料采购应付确<tspan x="717.5" dy="7">认流程</tspan></text></g>
<g id="n-bpyf"><rect class="b" x="686" y="290" width="63" height="17"/><text class="t" x="717.5" y="297.5">备品备件采购应<tspan x="717.5" dy="7">付确认流程</tspan></text></g>
<g id="n-wgyf"><rect class="b" x="686" y="309" width="63" height="17"/><text class="t" x="717.5" y="316.5">外购服务采购应付<tspan x="717.5" dy="7">确认流程</tspan></text></g>
<g id="n-dzyf"><rect class="b" x="686" y="328" width="63" height="17"/><text class="t" x="717.5" y="335.5">低值易耗品采购应<tspan x="717.5" dy="7">付确认流程</tspan></text></g>
<g id="n-sbyf"><rect class="b" x="686" y="347" width="63" height="17"/><text class="t" x="717.5" y="354.5">设备采购应付确认<tspan x="717.5" dy="7">流程</tspan></text></g>
<g id="n-gdyf"><rect class="b" x="686" y="366" width="63" height="17"/><text class="t" x="717.5" y="373.5">固定/无形资产<tspan x="717.5" dy="7">采购应付确认流程</tspan></text></g>
<g id="n-qtyf"><rect class="b" x="686" y="385" width="63" height="17"/><text class="t" x="717.5" y="392.5">其他采购应付确<tspan x="717.5" dy="7">认流程</tspan></text></g>
<g id="n-qtcwyf"><rect class="b" x="686" y="404" width="63" height="17"/><text class="t" x="717.5" y="411.5">其他财务应付确<tspan x="717.5" dy="7">认流程</tspan></text></g>
<g id="n-xcyf"><rect class="b" x="686" y="423" width="63" height="17"/><text class="t" x="717.5" y="430.5">薪酬福利应付确<tspan x="717.5" dy="7">认流程</tspan></text></g>
<g id="n-kjkm"><rect class="b" x="601" y="462" width="64" height="16"/><text class="t" x="633" y="469">会计科目信息管<tspan x="633" dy="7">理流程</tspan></text></g>
<g id="n-pzcl"><rect class="b" x="682" y="462" width="66" height="16"/><text class="t" x="715" y="472">凭证处理流程</text></g>
<g id="n-bbbz"><rect class="b" x="601" y="484" width="64" height="16"/><text class="t" x="633" y="491">报表编制<tspan x="633" dy="7">及核对流程</tspan></text></g>
<g id="n-qmjz"><rect class="b" x="682" y="484" width="66" height="16"/><text class="t" x="715" y="491">期末结账<tspan x="715" dy="7">管理流程</tspan></text></g>
<g id="n-zcfzbz"><rect class="b" x="600" y="512" width="63" height="17"/><text class="t" x="631.5" y="522.5">资产负债表编制</text></g>
<g id="n-lrbz"><rect class="b" x="600" y="533" width="63" height="17"/><text class="t" x="631.5" y="543.5">利润表编制</text></g>
<g id="n-xjllbz"><rect class="b" x="685" y="514" width="66" height="17"/><text class="t" x="718" y="524.5">现金流量表编制</text></g>
<g id="n-syzqbz"><rect class="b" x="685" y="533" width="66" height="17"/><text class="t" x="718" y="540.5">所有者权益变动<tspan x="718" dy="7">表编制</tspan></text></g>
<g id="n-zjhs"><rect class="b" x="787" y="82" width="63" height="16"/><text class="t" x="818.5" y="89">在建工程<tspan x="818.5" dy="7">核算流程</tspan></text></g>
<g id="n-zjjz"><rect class="b" x="865" y="82" width="65" height="16"/><text class="t" x="897.5" y="89">在建工程<tspan x="897.5" dy="7">结转流程</tspan></text></g>
<g id="n-zjjzzb"><rect class="b" x="787" y="102" width="65" height="16"/><text class="t" x="819.5" y="109">在建工程<tspan x="819.5" dy="7">减值准备流程</tspan></text></g>
<g id="n-gdgj"><rect class="b" x="787" y="143" width="64" height="17"/><text class="t" x="819" y="150.5">固定/无形资产<tspan x="819" dy="7">购建流程</tspan></text></g>
<g id="n-gdzj"><rect class="b" x="787" y="166" width="64" height="17"/><text class="t" x="819" y="173.5">固定/无形资产<tspan x="819" dy="7">折旧/摊销流程</tspan></text></g>
<g id="n-gdpd"><rect class="b" x="787" y="189" width="64" height="17"/><text class="t" x="819" y="196.5">固定/无形资产<tspan x="819" dy="7">盘点流程</tspan></text></g>
<g id="n-gdzy"><rect class="b" x="866" y="142" width="64" height="16"/><text class="t" x="898" y="149">固定/无形资产<tspan x="898" dy="7">转移流程</tspan></text></g>
<g id="n-gdcz"><rect class="b" x="866" y="164" width="64" height="17"/><text class="t" x="898" y="171.5">固定/无形资产<tspan x="898" dy="7">处置流程</tspan></text></g>
<g id="n-gdjz"><rect class="b" x="866" y="189" width="64" height="17"/><text class="t" x="898" y="196.5">固定/无形资产<tspan x="898" dy="7">减值准备流程</tspan></text></g>
<g id="n-cbzx"><rect class="b" x="787" y="228" width="65" height="17"/><text class="t" x="819.5" y="235.5">成本中心管理流<tspan x="819.5" dy="7">程</tspan></text></g>
<g id="n-rlcbgj"><rect class="b" x="787" y="248" width="65" height="17"/><text class="t" x="819.5" y="255.5">燃料成本<tspan x="819.5" dy="7">归集流程</tspan></text></g>
<g id="n-ywcbgj"><rect class="b" x="787" y="268" width="65" height="17"/><text class="t" x="819.5" y="275.5">运维成本<tspan x="819.5" dy="7">归集流程</tspan></text></g>
<g id="n-xmcbgj"><rect class="b" x="787" y="288" width="65" height="17"/><text class="t" x="819.5" y="295.5">项目成本<tspan x="819.5" dy="7">归集流程</tspan></text></g>
<g id="n-fyft"><rect class="b" x="787" y="308" width="65" height="17"/><text class="t" x="819.5" y="318.5">费用分摊流程</text></g>
<g id="n-lrzx"><rect class="b" x="864" y="228" width="65" height="17"/><text class="t" x="896.5" y="235.5">利润中心管理流<tspan x="896.5" dy="7">程</tspan></text></g>
<g id="n-rlcbjz"><rect class="b" x="864" y="248" width="65" height="17"/><text class="t" x="896.5" y="255.5">燃料成本<tspan x="896.5" dy="7">结转流程</tspan></text></g>
<g id="n-ywcbjz"><rect class="b" x="864" y="268" width="65" height="17"/><text class="t" x="896.5" y="275.5">运维成本<tspan x="896.5" dy="7">结转流程</tspan></text></g>
<g id="n-xmcbjz"><rect class="b" x="864" y="288" width="65" height="17"/><text class="t" x="896.5" y="295.5">项目成本<tspan x="896.5" dy="7">结转流程</tspan></text></g>
<g id="n-swch"><rect class="b" x="787" y="348" width="66" height="17"/><text class="t" x="820" y="355.5">税务筹划<tspan x="820" dy="7">管理流程</tspan></text></g>
<g id="n-swfx"><rect class="b" x="864" y="348" width="66" height="17"/><text class="t" x="897" y="355.5">税务风险<tspan x="897" dy="7">管理流程</tspan></text></g>
<g id="n-nssb"><rect class="b" x="787" y="369" width="66" height="17"/><text class="t" x="820" y="376.5">纳税申报<tspan x="820" dy="7">管理流程</tspan></text></g>
<g id="n-fpsw"><rect class="b" x="864" y="369" width="66" height="17"/><text class="t" x="897" y="376.5">发票实物<tspan x="897" dy="7">管理流程</tspan></text></g>
<g id="n-yhzh"><rect class="bc" x="787" y="408" width="65" height="17"/><text class="t" x="819.5" y="418.5">银行账户管理流程</text></g>
<g id="n-yhdz"><rect class="bc" x="787" y="431" width="65" height="17"/><text class="t" x="819.5" y="441.5">银行对账处理流程</text></g>
<g id="n-yhjzh"><rect class="bc" x="787" y="454" width="65" height="17"/><text class="t" x="819.5" y="461.5">银行间转汇结算流<tspan x="819.5" dy="7">程</tspan></text></g>
<g id="n-lxcb"><rect class="bc" x="787" y="477" width="65" height="17"/><text class="t" x="819.5" y="487.5">利息成本流程</text></g>
<g id="n-zwgl"><rect class="bc" x="787" y="500" width="65" height="17"/><text class="t" x="819.5" y="510.5">债务管理流程</text></g>
<g id="n-tzlc"><rect class="bc" x="864" y="408" width="65" height="17"/><text class="t" x="896.5" y="418.5">投资理财管理流程</text></g>
<g id="n-whmm"><rect class="bc" x="864" y="431" width="65" height="17"/><text class="t" x="896.5" y="441.5">外汇买卖流程</text></g>
<g id="n-yhfh"><rect class="bc" x="864" y="454" width="65" height="17"/><text class="t" x="896.5" y="464.5">银行间付汇流程</text></g>
<g id="n-rzgl"><rect class="bc" x="864" y="477" width="65" height="17"/><text class="t" x="896.5" y="487.5">融资管理流程</text></g>
<g id="n-rzcb"><rect class="bc" x="864" y="500" width="65" height="17"/><text class="t" x="896.5" y="510.5">融资成本流程</text></g>
<g id="n-wbsj"><rect class="b" x="787" y="527" width="65" height="16"/><text class="t" x="819.5" y="537">外部审计流程</text></g>

<!-- column 4 nodes -->
<g id="n-glbg"><rect class="b" x="990" y="76" width="65" height="17"/><text class="t" x="1022.5" y="83.5">管理报告<tspan x="1022.5" dy="7">分析流程</tspan></text></g>
<g id="n-yjzb"><rect class="b" x="990" y="156" width="65" height="16"/><text class="t" x="1022.5" y="166">业绩指标输出</text></g>
</svg>
